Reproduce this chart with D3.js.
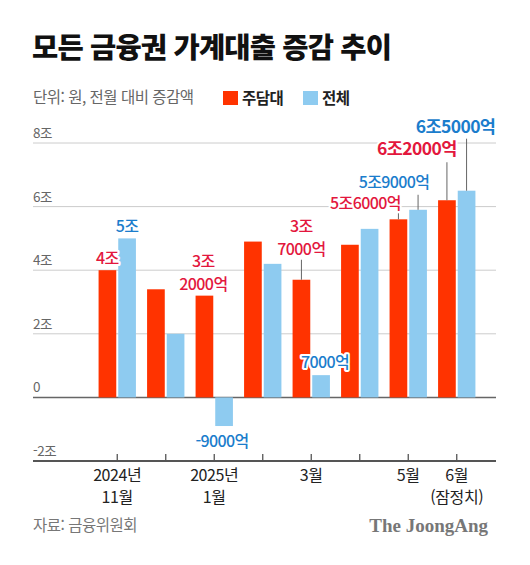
<!DOCTYPE html>
<html lang="ko">
<head>
<meta charset="UTF-8" />
<script src="https://d3js.org/d3.v7.min.js"></script>
<title>모든 금융권 가계대출 증감 추이</title>
<style>
    body { margin: 0; background: #fff; }
    svg { display: block; font-family: "Noto Sans CJK KR", "Noto Sans", sans-serif; }
    .halo { paint-order: stroke; stroke: #fff; stroke-width: 4px; stroke-linejoin: round; }
</style>
</head>
<body>
<svg width="530" height="565"></svg>
<script>
    // 월별 카테고리
    const months = ["2024-11", "2024-12", "2025-01", "2025-02", "2025-03", "2025-04", "2025-05", "2025-06"]
    const tickLabels = [["2024년", "11월"], [], ["2025년", "1월"], [], ["3월"], [], ["5월"], ["6월", "(잠정치)"]]
    // 단위: 조원
    const mortgage = [4, 3.4, 3.2, 4.9, 3.7, 4.8, 5.6, 6.2]
    const total = [5, 2, -0.9, 4.2, 0.7, 5.3, 5.9, 6.5]
    const series = ["주담대", "전체"]
    const yTicks = [-2, 0, 2, 4, 6, 8]
    const yTickLabels = ["-2조", "0", "2조", "4조", "6조", "8조"]

    const colors = { "주담대": "#ff3300", "전체": "#8ecbf0" }
    const textColors = { "주담대": "#e3173d", "전체": "#1b7dcc" }

    const margin = { left: 33, right: 34, top: 143, bottom: 104 }
    const width = 530, height = 565

    const data = months.map((m, i) => ({ month: m, "주담대": mortgage[i], "전체": total[i] }))

    const x0 = d3.scaleBand().domain(months).range([93, 481]).paddingInner(0.23).paddingOuter(0.115)
    const x1 = d3.scaleBand().domain(series).range([0, x0.bandwidth()]).paddingInner(0.1)
    const y = d3.scaleLinear().domain([-2, 8]).range([height - margin.bottom, margin.top])

    const svg = d3.select("svg")

    // 제목
    svg.append("text").attr("x", 32).attr("y", 58).attr("font-size", 28.5).attr("font-weight", 900)
        .attr("letter-spacing", -0.8).attr("fill", "#111").text("모든 금융권 가계대출 증감 추이")
    svg.append("text").attr("x", 33).attr("y", 103).attr("font-size", 15.5).attr("fill", "#666")
        .attr("letter-spacing", -0.5).text("단위: 원, 전월 대비 증감액")

    // 범례
    const legend = svg.append("g").attr("transform", "translate(223,0)")
    series.forEach((s, i) => {
        const g = legend.append("g").attr("transform", `translate(${i * 80},0)`)
        g.append("rect").attr("x", 0).attr("y", 91).attr("width", 15).attr("height", 14).attr("fill", colors[s])
        g.append("text").attr("x", 19).attr("y", 104).attr("font-size", 15.5).attr("font-weight", 700)
            .attr("fill", "#222").attr("letter-spacing", -0.5).text(s)
    })

    // 그리드
    const grid = svg.append("g")
    grid.selectAll("line").data(yTicks.filter(d => d > -2)).join("line")
        .attr("x1", margin.left).attr("x2", width - margin.right)
        .attr("y1", d => y(d)).attr("y2", d => y(d))
        .attr("stroke", d => d === 0 ? "#666" : "#ccc").attr("stroke-width", d => d === 0 ? 1.5 : 1)
    grid.selectAll("text").data(yTicks).join("text")
        .attr("x", margin.left).attr("y", d => y(d) - 5)
        .attr("font-size", 13.5).attr("fill", "#666").attr("letter-spacing", -0.5)
        .text((d, i) => yTickLabels[i])

    // 막대
    const groups = svg.append("g").selectAll("g").data(data).join("g")
        .attr("transform", d => `translate(${x0(d.month)},0)`)
    groups.selectAll("rect").data(d => series.map(s => ({ key: s, value: d[s] }))).join("rect")
        .attr("x", d => x1(d.key)).attr("width", x1.bandwidth())
        .attr("y", d => y(Math.max(0, d.value))).attr("height", d => Math.abs(y(d.value) - y(0)))
        .attr("fill", d => colors[d.key])

    // x축
    const xAxis = svg.append("g").attr("transform", `translate(0,${y(-2)})`)
    xAxis.append("line").attr("x1", margin.left).attr("x2", width - margin.right)
        .attr("stroke", "#555").attr("stroke-width", 2)
    months.forEach((m, i) => {
        const cx = x0(m) + x0.bandwidth() / 2
        xAxis.append("line").attr("x1", cx).attr("x2", cx).attr("y1", 0).attr("y2", -7).attr("stroke", "#555").attr("stroke-width", 1.3)
        tickLabels[i].forEach((s, j) => {
            xAxis.append("text").attr("x", cx).attr("y", 20 + j * 22).attr("text-anchor", "middle")
                .attr("font-size", 16).attr("fill", "#222").attr("letter-spacing", -0.4).text(s)
        })
    })

    // 값 레이블
    const barX = (i, s) => x0(months[i]) + x1(s) + x1.bandwidth() / 2
    const labels = [
        { i: 0, s: "주담대", lines: ["4조"], dx: 0, dy: -6 },
        { i: 0, s: "전체", lines: ["5조"], dx: 0, dy: -6 },
        { i: 2, s: "주담대", lines: ["3조", "2000억"], dx: -1, dy: -6 },
        { i: 2, s: "전체", lines: ["-9000억"], dx: -2, dy: 21 },
        { i: 4, s: "주담대", lines: ["3조", "7000억"], dx: 0, dy: -25, leader: 20 },
        { i: 4, s: "전체", lines: ["7000억"], dx: 4, dy: -7 },
        { i: 6, s: "주담대", lines: ["5조6000억"], dx: -33, dy: -10, leader: 6 },
        { i: 6, s: "전체", lines: ["5조9000억"], dx: -24, dy: -22, leader: 15 },
        { i: 7, s: "주담대", lines: ["6조2000억"], dx: -30, dy: -45, leader: 38, big: true },
        { i: 7, s: "전체", lines: ["6조5000억"], dx: -11, dy: -58, leader: 52, big: true }
    ]
    const lab = svg.append("g")
    labels.forEach(l => {
        const v = l.s === "주담대" ? mortgage[l.i] : total[l.i]
        const bx = barX(l.i, l.s)
        if (l.leader) {
            lab.append("line").attr("x1", bx).attr("x2", bx).attr("y1", y(v)).attr("y2", y(v) - l.leader)
                .attr("stroke", "#666").attr("stroke-width", 1)
        }
        const n = l.lines.length
        l.lines.forEach((s, j) => {
            lab.append("text").attr("class", "halo")
                .attr("x", bx + l.dx).attr("y", y(v) + l.dy - (n - 1 - j) * 23)
                .attr("text-anchor", "middle").attr("font-size", l.big ? 17.5 : 16)
                .attr("font-weight", l.big ? 700 : 500).attr("letter-spacing", -0.6)
                .attr("fill", textColors[l.s]).text(s)
        })
    })

    // 출처
    svg.append("text").attr("x", 33).attr("y", 531).attr("font-size", 15.5).attr("fill", "#777")
        .attr("letter-spacing", -0.5).text("자료: 금융위원회")
    svg.append("text").attr("x", 488).attr("y", 532).attr("text-anchor", "end")
        .attr("font-family", "'Liberation Serif', 'DejaVu Serif', serif").attr("font-weight", 700)
        .attr("font-size", 19).attr("fill", "#777").text("The JoongAng")
</script>
</body>
</html>
